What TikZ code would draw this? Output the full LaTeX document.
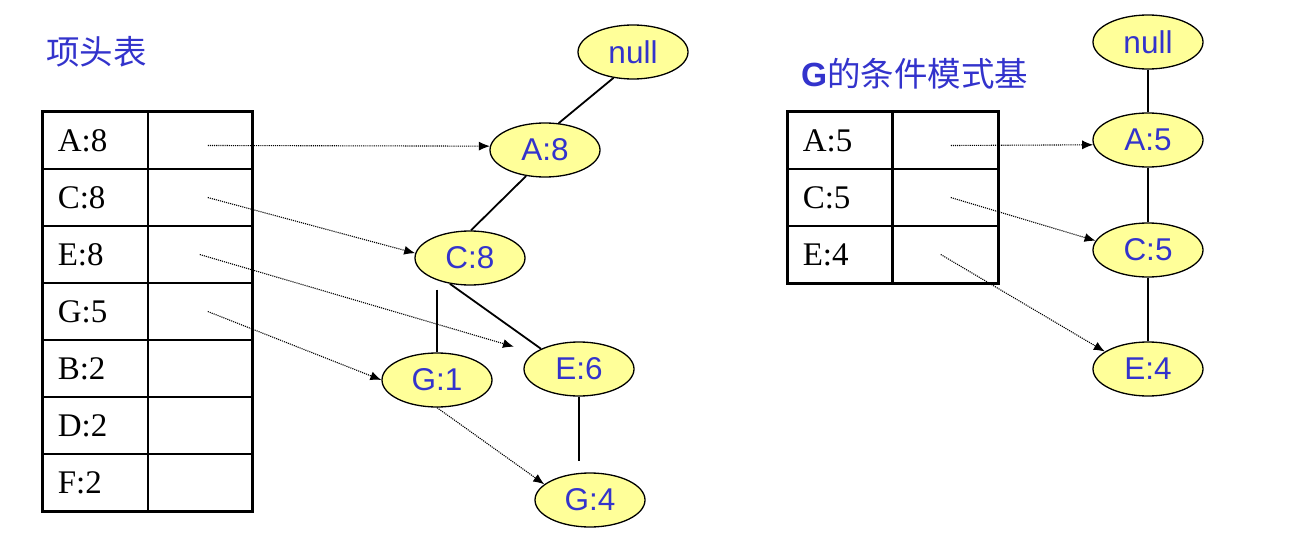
\documentclass[tikz,border=0pt]{standalone}
\usepackage{fontspec}
\setmainfont{Liberation Serif}
\newfontfamily\sansf{Liberation Sans}
\newfontfamily\cjk{Noto Sans CJK SC}
\usetikzlibrary{shapes.geometric,arrows.meta}
\definecolor{tblue}{HTML}{3333CC}
\definecolor{nodefill}{HTML}{FFFF99}
\begin{document}
\begin{tikzpicture}[x=1pt,y=-1pt,
  tnode/.style={ellipse,draw,line width=1.3pt,fill=nodefill,minimum width=110pt,minimum height=54pt,inner sep=0pt,font=\sansf\fontsize{31.5}{31.5}\selectfont,text=tblue},
  keycell/.style={rectangle,draw,line width=1.5pt,minimum height=57pt,text width=75pt,inner xsep=15pt,inner ysep=0pt,align=left,anchor=west,font=\fontsize{33}{33}\selectfont},
  ptrcell/.style={rectangle,draw,line width=1.5pt,minimum height=57pt,minimum width=104pt,inner sep=0pt,anchor=west},
  frame/.style={draw,line width=3pt},
  treeedge/.style={line width=1.8pt},
  ptr/.style={densely dotted,line width=1.1pt,black,-{Latex[length=11pt,width=9pt]}},
  title/.style={inner sep=0pt,anchor=west,text=tblue,font=\cjk\fontsize{33.5}{33.5}\selectfont}
]
\useasboundingbox (0,0) rectangle (1315,551);

% titles
\node[title] (t1) at (46,52) {项头表};
\node[title] (t2) at (801,74) {{\sansf\bfseries G}的条件模式基};

% left table
\foreach \k/\lab [count=\i from 0] in {A/A:8,C/C:8,E/E:8,G/G:5,B/B:2,D/D:2,F/F:2}{
  \node[keycell] (k\k) at (42,{140.5+57*\i}) {\lab};
  \node[ptrcell] (p\k) at (147,{140.5+57*\i}) {};
}
\draw[frame] (kA.north west) rectangle (pF.south east);

% left tree
\node[tnode] (n0) at (633,52) {null};
\node[tnode] (a8) at (545,150) {A:8};
\node[tnode] (c8) at (470,258) {C:8};
\node[tnode] (g1) at (437,380) {G:1};
\node[tnode] (e6) at (579,369) {E:6};
\node[tnode] (g4) at (590,500) {G:4};

\draw[treeedge] (n0.233) -- (a8.63);
\draw[treeedge] (a8.234) -- (c8.88);
\draw[treeedge] ([yshift=-4pt]g1.north |- c8.south) -- (g1.north);
\draw[treeedge] (c8.232) -- (e6.152);
\draw[treeedge,shorten >=11pt] (e6.south) -- (e6.south |- g4.north);

\draw[ptr] ([xshift=8pt,yshift=-5pt]pA.center) -- (a8.176);
\draw[ptr] ([xshift=8pt]pC.center) -- (c8.175);
\draw[ptr,shorten >=21pt] (pE.center) -- (e6.160);
\draw[ptr] ([xshift=8pt]pG.center) -- (g1.west);
\draw[ptr] (g1.south) -- (g4.161);

% right table
\foreach \k/\lab [count=\i from 0] in {A/A:5,C/C:5,E/E:4}{
  \node[keycell] (r\k) at (787,{140.5+57*\i}) {\lab};
  \node[ptrcell,minimum width=106pt] (q\k) at (891,{140.5+57*\i}) {};
}
\draw[frame] (rA.north west) rectangle (qE.south east);

% right tree
\node[tnode] (m0) at (1148,42) {null};
\node[tnode] (a5) at (1148,140) {A:5};
\node[tnode] (c5) at (1148,250) {C:5};
\node[tnode] (e4) at (1148,369) {E:4};

\draw[treeedge] (m0) -- (a5);
\draw[treeedge] (a5) -- (c5);
\draw[treeedge] (c5) -- (e4);

\draw[ptr] ([xshift=6pt,yshift=-5pt]qA.center) -- (a5.185);
\draw[ptr] ([xshift=6pt]qC.center) -- (c5.170);
\draw[ptr] ([xshift=-4pt]qE.center) -- (e4.158);
\end{tikzpicture}
\end{document}
